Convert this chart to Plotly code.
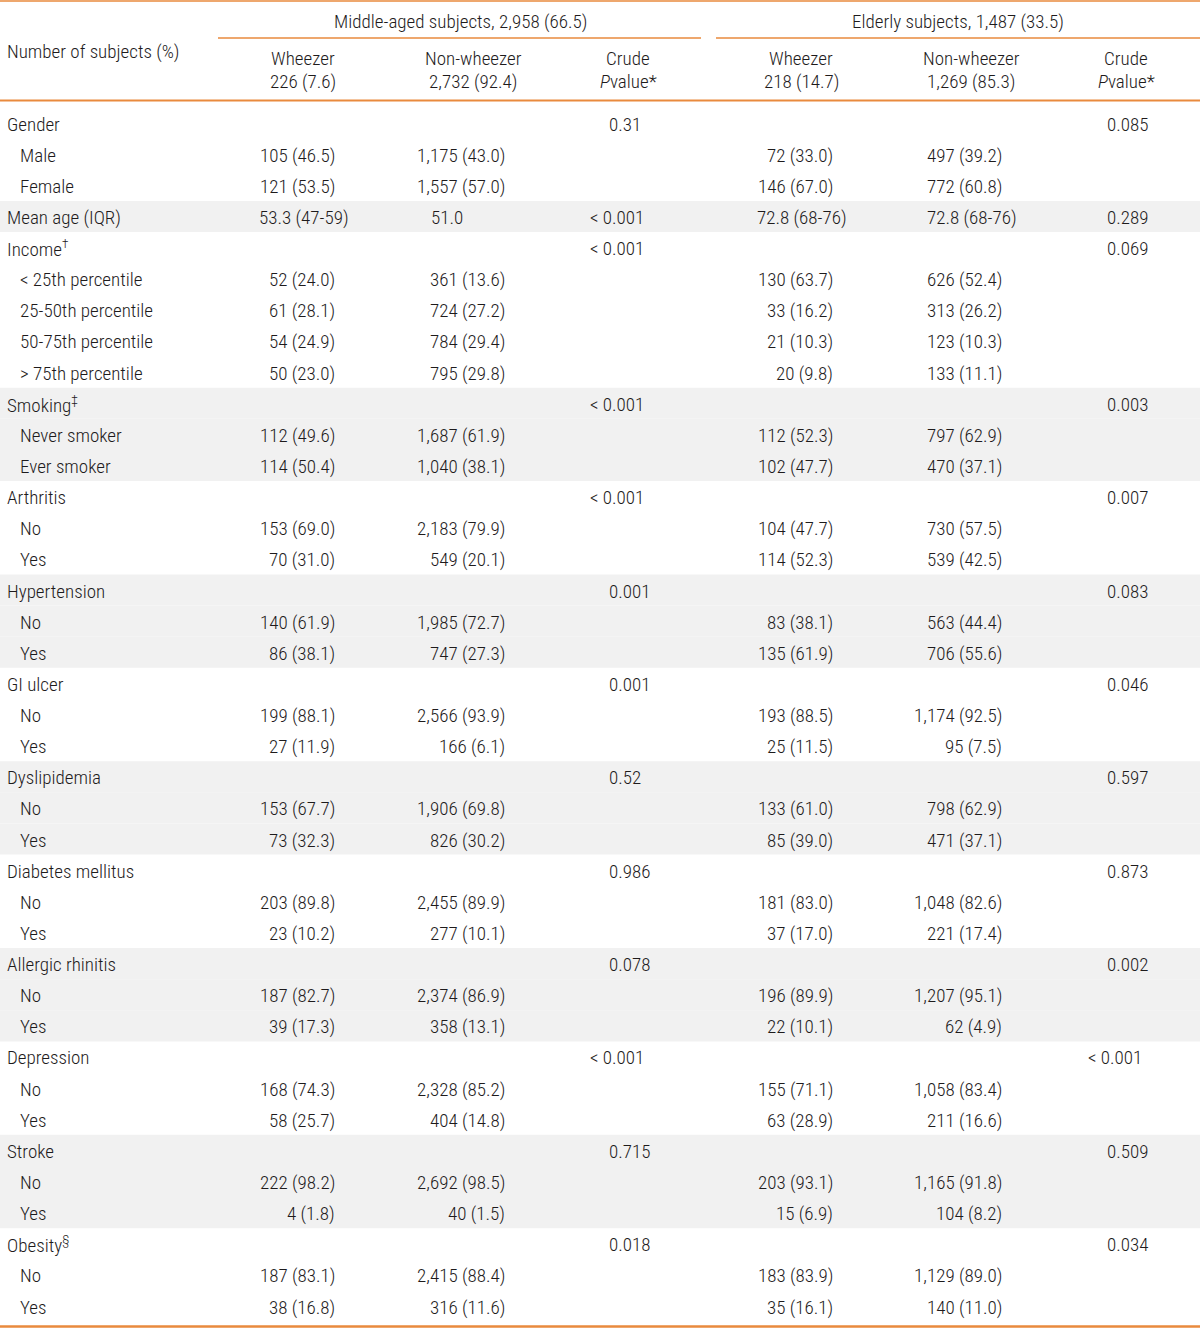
import plotly.graph_objects as go

# ---------------- data ----------------
labels = ["Gender", "Male", "Female", "Mean age (IQR)", "Income<sup>†</sup>",
          "&lt; 25th percentile", "25-50th percentile", "50-75th percentile", "&gt; 75th percentile",
          "Smoking<sup>‡</sup>", "Never smoker", "Ever smoker",
          "Arthritis", "No", "Yes", "Hypertension", "No", "Yes",
          "GI ulcer", "No", "Yes", "Dyslipidemia", "No", "Yes",
          "Diabetes mellitus", "No", "Yes", "Allergic rhinitis", "No", "Yes",
          "Depression", "No", "Yes", "Stroke", "No", "Yes",
          "Obesity<sup>§</sup>", "No", "Yes"]
level = [0, 1, 1, 0, 0, 1, 1, 1, 1, 0, 1, 1, 0, 1, 1, 0, 1, 1, 0, 1, 1,
         0, 1, 1, 0, 1, 1, 0, 1, 1, 0, 1, 1, 0, 1, 1, 0, 1, 1]

mid_wheezer = ["", "105 (46.5)", "121 (53.5)", "53.3 (47-59)", "", "52 (24.0)", "61 (28.1)",
               "54 (24.9)", "50 (23.0)", "", "112 (49.6)", "114 (50.4)", "", "153 (69.0)",
               "70 (31.0)", "", "140 (61.9)", "86 (38.1)", "", "199 (88.1)", "27 (11.9)", "",
               "153 (67.7)", "73 (32.3)", "", "203 (89.8)", "23 (10.2)", "", "187 (82.7)",
               "39 (17.3)", "", "168 (74.3)", "58 (25.7)", "", "222 (98.2)", "4 (1.8)", "",
               "187 (83.1)", "38 (16.8)"]
mid_non = ["", "1,175 (43.0)", "1,557 (57.0)", "51.0", "", "361 (13.6)", "724 (27.2)",
           "784 (29.4)", "795 (29.8)", "", "1,687 (61.9)", "1,040 (38.1)", "", "2,183 (79.9)",
           "549 (20.1)", "", "1,985 (72.7)", "747 (27.3)", "", "2,566 (93.9)", "166 (6.1)", "",
           "1,906 (69.8)", "826 (30.2)", "", "2,455 (89.9)", "277 (10.1)", "", "2,374 (86.9)",
           "358 (13.1)", "", "2,328 (85.2)", "404 (14.8)", "", "2,692 (98.5)", "40 (1.5)", "",
           "2,415 (88.4)", "316 (11.6)"]
mid_p = ["0.31", "", "", "<0.001", "<0.001", "", "", "", "", "<0.001", "", "", "<0.001", "", "",
         "0.001", "", "", "0.001", "", "", "0.52", "", "", "0.986", "", "", "0.078", "", "",
         "<0.001", "", "", "0.715", "", "", "0.018", "", ""]
eld_wheezer = ["", "72 (33.0)", "146 (67.0)", "72.8 (68-76)", "", "130 (63.7)", "33 (16.2)",
               "21 (10.3)", "20 (9.8)", "", "112 (52.3)", "102 (47.7)", "", "104 (47.7)",
               "114 (52.3)", "", "83 (38.1)", "135 (61.9)", "", "193 (88.5)", "25 (11.5)", "",
               "133 (61.0)", "85 (39.0)", "", "181 (83.0)", "37 (17.0)", "", "196 (89.9)",
               "22 (10.1)", "", "155 (71.1)", "63 (28.9)", "", "203 (93.1)", "15 (6.9)", "",
               "183 (83.9)", "35 (16.1)"]
eld_non = ["", "497 (39.2)", "772 (60.8)", "72.8 (68-76)", "", "626 (52.4)", "313 (26.2)",
           "123 (10.3)", "133 (11.1)", "", "797 (62.9)", "470 (37.1)", "", "730 (57.5)",
           "539 (42.5)", "", "563 (44.4)", "706 (55.6)", "", "1,174 (92.5)", "95 (7.5)", "",
           "798 (62.9)", "471 (37.1)", "", "1,048 (82.6)", "221 (17.4)", "", "1,207 (95.1)",
           "62 (4.9)", "", "1,058 (83.4)", "211 (16.6)", "", "1,165 (91.8)", "104 (8.2)", "",
           "1,129 (89.0)", "140 (11.0)"]
eld_p = ["0.085", "", "", "0.289", "0.069", "", "", "", "", "0.003", "", "", "0.007", "", "",
         "0.083", "", "", "0.046", "", "", "0.597", "", "", "0.873", "", "", "0.002", "", "",
         "<0.001", "", "", "0.509", "", "", "0.034", "", ""]

group_titles = ["Middle-aged subjects, 2,958 (66.5)", "Elderly subjects, 1,487 (33.5)"]
col_heads = ["Wheezer", "Non-wheezer", "Crude", "Wheezer", "Non-wheezer", "Crude"]
col_subs = ["226 (7.6)", "2,732 (92.4)", "<i>P</i>value*", "218 (14.7)", "1,269 (85.3)", "<i>P</i>value*"]
row_header = "Number of subjects (%)"

# ---------------- style ----------------
W, H = 1200, 1328
FONT = "Roboto Condensed, Liberation Sans Narrow, Arial Narrow, DejaVu Sans Condensed, sans-serif"
FS = 19
TXT = "#1e1b1c"
ORANGE = "#e98a3d"
SHADE = "#f1f1f1"
ROW0, PITCH = 107.5, 31.13

head_centers = [303, 473, 628, 801, 971, 1126]
val_right = [337, 507, 835, 1004]
mean_centers = [304, 447, 802, 972]
p_left = [607, 1105]

fig = go.Figure()
shapes, ann = [], []


def rc(i):
    return ROW0 + (i + 0.5) * PITCH + 1


# shading by alternating groups
g = -1
for i, lv in enumerate(level):
    if lv == 0:
        g += 1
    if g % 2 == 1:
        shapes.append(dict(type="rect", xref="x", yref="y", x0=0, x1=W,
                           y0=ROW0 + i * PITCH, y1=ROW0 + (i + 1) * PITCH,
                           fillcolor=SHADE, line_width=0, layer="below"))

# rules
for (x0, x1, y, w) in [(0, W, 1, 1.6), (218, 701, 38, 1.6), (716, W, 38, 1.6),
                       (0, W, 100.5, 1.8), (0, W, 1326.5, 2.4)]:
    shapes.append(dict(type="line", xref="x", yref="y", x0=x0, x1=x1, y0=y, y1=y,
                       line=dict(color=ORANGE, width=w)))


def add(text, x, y, anchor="left"):
    ann.append(dict(text=text, x=x, y=y, xref="x", yref="y", xanchor=anchor,
                    yanchor="middle", showarrow=False,
                    font=dict(family=FONT, size=FS, color=TXT, weight=300)))


# header
add(row_header, 5, 51)
add(group_titles[0], 460, 21, "center")
add(group_titles[1], 958, 21, "center")
for k in range(6):
    add(col_heads[k], head_centers[k], 58, "center")
    add(col_subs[k], head_centers[k], 81, "center")

# body
for i, lab in enumerate(labels):
    y = rc(i)
    add(lab, 5 if level[i] == 0 else 18, y)
    vals = [mid_wheezer[i], mid_non[i], eld_wheezer[i], eld_non[i]]
    for k, v in enumerate(vals):
        if not v:
            continue
        if i == 3:
            add(v, mean_centers[k], y, "center")
        else:
            add(v, val_right[k], y, "right")
    for k, p in enumerate([mid_p[i], eld_p[i]]):
        if not p:
            continue
        if p.startswith("<"):
            add("&lt; " + p[1:], p_left[k] + 39, y, "right")
        else:
            add(p, p_left[k], y, "left")

fig.update_layout(
    width=W, height=H, margin=dict(l=0, r=0, t=0, b=0),
    paper_bgcolor="white", plot_bgcolor="white",
    xaxis=dict(range=[0, W], visible=False, fixedrange=True),
    yaxis=dict(range=[H, 0], visible=False, fixedrange=True),
    shapes=shapes, annotations=ann, showlegend=False,
)
fig.write_html("out.html", config={"displayModeBar": False},
               post_script="document.body.style.margin='0';document.body.style.overflow='hidden';")
